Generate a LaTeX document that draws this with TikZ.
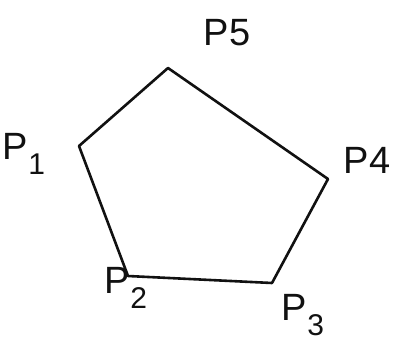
\documentclass[tikz,border=0pt]{standalone}
\usepackage{fontspec}
\setmainfont{Liberation Sans}
\usetikzlibrary{positioning, calc}
\definecolor{ink}{HTML}{111111}
\newcommand{\vsub}[1]{\raisebox{-0.4em}{\fontsize{30}{30}\selectfont #1}}
\tikzset{
    edge/.style={draw=ink, line width=2.6pt, line join=round,
        line cap=round},
    vlbl/.style={text=ink, inner sep=0pt,
        font=\fontsize{38}{38}\selectfont},
}

\begin{document}
\begin{tikzpicture}[x=1pt, y=-1pt]

% ================================================================
%  FRAME
% ================================================================

\useasboundingbox (0, 0) rectangle (399, 341);

% ================================================================
%  VERTICES
% ================================================================

\coordinate (p1) at (79, 146);
\coordinate (p2) at (128, 276);
\coordinate (p3) at (272, 283);
\coordinate (p4) at (328, 179);
\coordinate (p5) at (168, 68);

\draw[edge] (p1) -- (p2) -- (p3) -- (p4) -- (p5) -- cycle;

% ================================================================
%  LABELS
% ================================================================

\node[vlbl] (lbl1) at (24, 154) {P\vsub{1}};
\node[vlbl] (lbl2) at (126, 288) {P\vsub{2}};
\node[vlbl] (lbl3) at (303, 315) {P\vsub{3}};
\node[vlbl] (lbl4) at (367, 160) {P4};
\node[vlbl] (lbl5) at (227, 33) {P5};

\end{tikzpicture}
\end{document}
